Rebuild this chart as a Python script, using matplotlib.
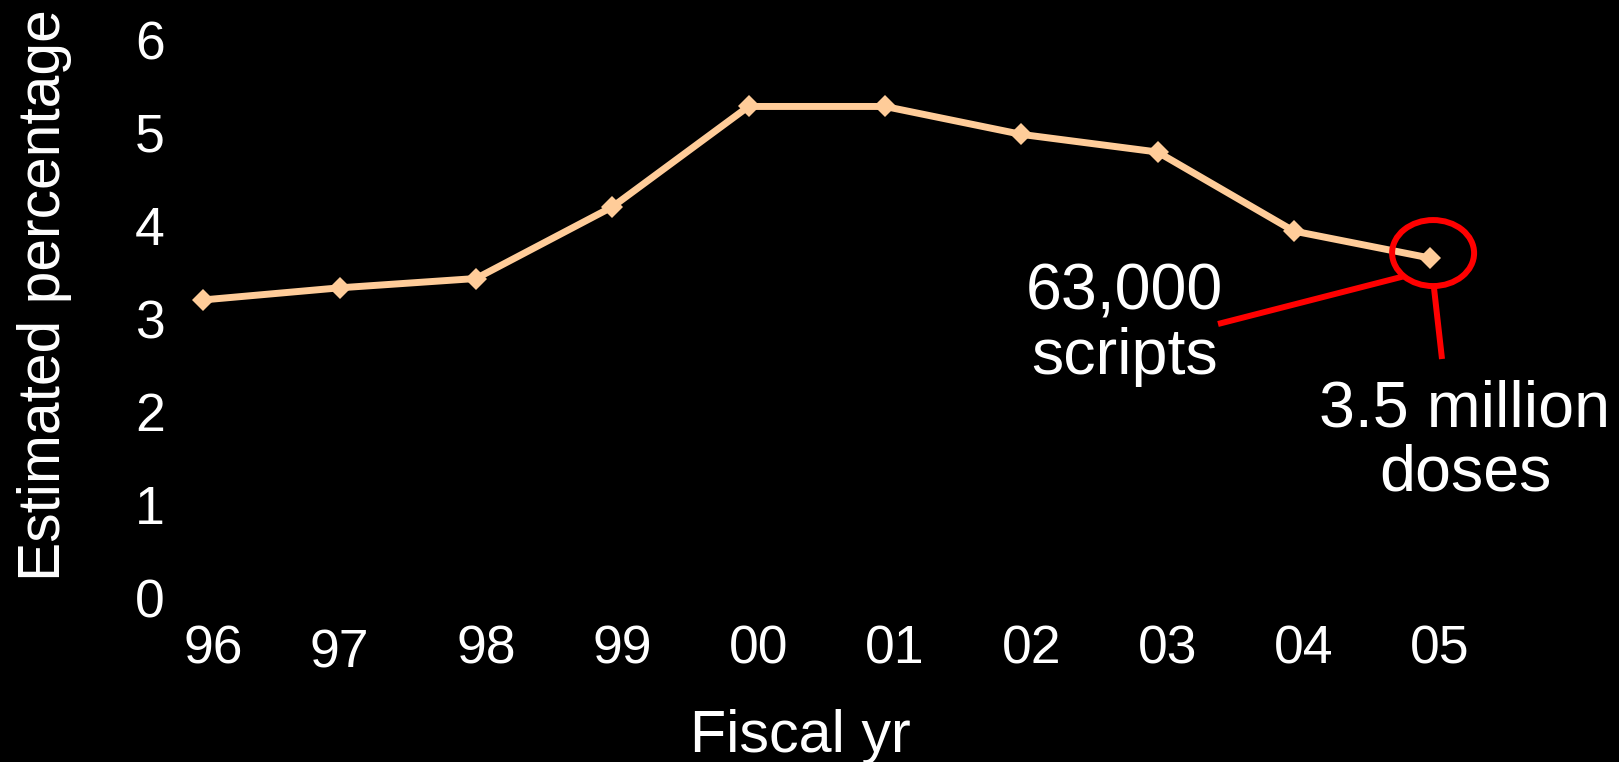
import matplotlib
matplotlib.use("Agg")
import matplotlib.pyplot as plt
import numpy as np
from matplotlib.patches import Ellipse
from matplotlib.transforms import ScaledTranslation

plt.rcParams['font.family'] = ['Liberation Sans', 'DejaVu Sans']

# ---- data ----
years = ["96", "97", "98", "99", "00", "01", "02", "03", "04", "05"]
pct = [3.20, 3.33, 3.43, 4.20, 5.28, 5.28, 4.98, 4.79, 3.94, 3.65]
yticks = [0, 1, 2, 3, 4, 5, 6]
note1 = "63,000\nscripts"
note2 = "3.5 million\ndoses"
xlabel = "Fiscal yr"
ylabel = "Estimated percentage"

W, H, DPI = 1619, 762, 100
fig = plt.figure(figsize=(W / DPI, H / DPI), dpi=DPI, facecolor="black")

# axes geometry (pixels)
ax_left, ax_right = 180, 1500
ax_bottom = 164.5
px_per_x = 136.3
px_per_y = 93.0
ytop = 6.3
xmin = -(203.4 - ax_left) / px_per_x
xmax = xmin + (ax_right - ax_left) / px_per_x

ax = fig.add_axes([ax_left / W, ax_bottom / H, (ax_right - ax_left) / W, ytop * px_per_y / H])
ax.set_facecolor("black")
ax.set_xlim(xmin, xmax)
ax.set_ylim(0, ytop)
for s in ax.spines.values():
    s.set_visible(False)

x = np.arange(len(years))
ax.plot(x, pct, color="#FFCC99", lw=5, marker="D", ms=11.5, mew=0, clip_on=False, zorder=3)

# ticks
ax.set_yticks(yticks)
ax.set_yticklabels([str(t) for t in yticks])
ax.tick_params(axis="y", length=0, pad=11, labelsize=38.5, labelcolor="white")
ax.set_xticks(x)
ax.set_xticklabels(years)
ax.tick_params(axis="x", length=0, pad=19.5, labelsize=38.5, labelcolor="white")
for i, lab in enumerate(ax.get_xticklabels()):
    dx, dy = (10, 0) if years[i] != "97" else (0, -4)
    lab.set_transform(lab.get_transform() + ScaledTranslation(dx / DPI, dy / DPI, fig.dpi_scale_trans))

# axis labels
fig.text(800.5 / W, 10 / H, xlabel, color="white", fontsize=42.7, ha="center", va="baseline")
fig.text(45 / W, 467 / H, ylabel, color="white", fontsize=42.3, ha="center", va="center", rotation=90)

# pixel -> data helpers for annotations
def dx_(px):
    return xmin + (px - ax_left) / px_per_x

def dy_(py):
    return (597.5 - py) / px_per_y

red = "#FF0000"
ell = Ellipse((x[-1] + 3 / px_per_x, pct[-1] + 5 / px_per_y), 82 / px_per_x, 66 / px_per_y,
              fill=False, edgecolor=red, lw=4.3, clip_on=False, zorder=4)
ax.add_patch(ell)
ax.plot([dx_(1218), dx_(1405)], [dy_(324), dy_(276)], color=red, lw=4.3, clip_on=False, zorder=4,
        solid_capstyle="butt")
ax.plot([dx_(1434), dx_(1442)], [dy_(288), dy_(359)], color=red, lw=4.3, clip_on=False, zorder=4,
        solid_capstyle="butt")

ax.text(dx_(1124.5), dy_(324.5), note1, color="white", fontsize=46.5, ha="center", va="center",
        linespacing=1.10, multialignment="center")
ax.text(dx_(1465), dy_(441.5), note2, color="white", fontsize=46.5, ha="center", va="center",
        linespacing=1.10, multialignment="center")

fig.savefig("out.png", dpi=DPI, facecolor="black")
